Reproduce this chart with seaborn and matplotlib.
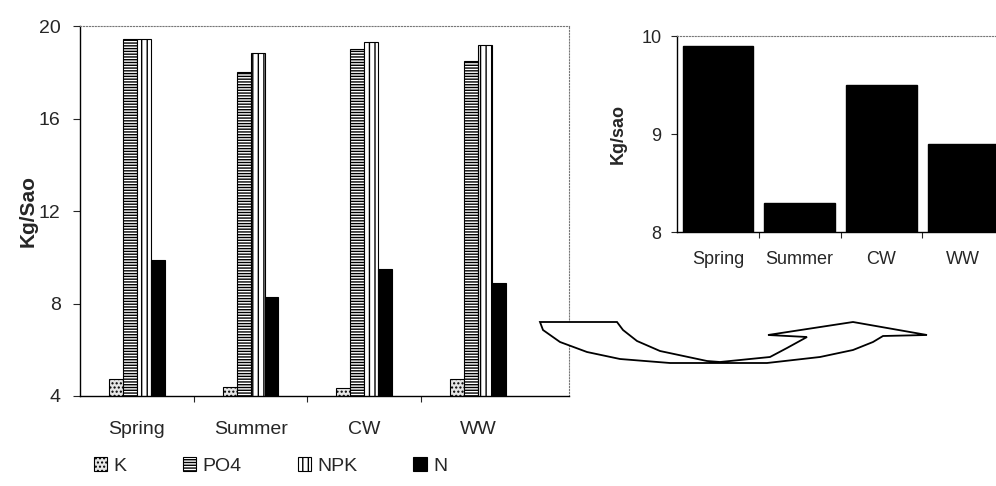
import pandas as pd
import numpy as np
import matplotlib.pyplot as plt
import seaborn as sns
from matplotlib.patches import Polygon

# values (Kg/Sao)
seasons = ["Spring", "Summer", "CW", "WW"]
nutrients = ["K", "PO4", "NPK", "N"]
k_vals = [4.72, 4.39, 4.35, 4.74]
po4_vals = [19.42, 18.02, 19.02, 18.49]
npk_vals = [19.42, 18.85, 19.31, 19.18]
n_vals = [9.9, 8.3, 9.5, 8.9]

sns.set_style("white")
plt.rcParams["font.family"] = ["Liberation Sans", "DejaVu Sans"]

df = pd.DataFrame({
    "season": seasons * 4,
    "nutrient": np.repeat(nutrients, 4),
    "value": k_vals + po4_vals + npk_vals + n_vals,
})

fig = plt.figure(figsize=(9.96, 4.86), dpi=100)

# main grouped chart
ax = fig.add_axes([80 / 996, 1 - 396 / 486, 489 / 996, 370 / 486])
sns.barplot(data=df, x="season", y="value", hue="nutrient", hue_order=nutrients,
            width=0.49, ax=ax, legend=False, err_kws={"linewidth": 0})

styles = [
    dict(fc="#e6e6e6", hatch="....", ec="black"),
    dict(fc="white", hatch="------", ec="black"),
    dict(fc="white", hatch="|||", ec="black"),
    dict(fc="black", hatch=None, ec="black"),
]
for cont, st in zip(ax.containers, styles):
    for bar in cont:
        bar.set_facecolor(st["fc"])
        bar.set_edgecolor(st["ec"])
        bar.set_hatch(st["hatch"])
        bar.set_linewidth(0.8)

ax.set_ylim(4, 20)
ax.set_yticks([4, 8, 12, 16, 20])
ax.set_xlim(-0.5, 3.8)
ax.set_xlabel("")
ax.set_ylabel("Kg/Sao", fontsize=15, fontweight="bold", labelpad=1)
ax.set_xticks([0.5, 1.5, 2.5], minor=True)
ax.tick_params(axis="x", which="major", length=0, pad=18, labelsize=14)
ax.tick_params(axis="x", which="minor", length=4, width=0.8, direction="out", bottom=True)
ax.tick_params(axis="y", length=5, width=0.8, direction="out", left=True, pad=9, labelsize=14)
for s in ["left", "bottom"]:
    ax.spines[s].set_color("black")
    ax.spines[s].set_linewidth(1)
for s in ["top", "right"]:
    ax.spines[s].set_color("#777777")
    ax.spines[s].set_linewidth(0.8)
    ax.spines[s].set_linestyle(":")

handles = [ax.containers[i][0] for i in range(4)]
fig.legend(handles, nutrients, loc="center left", bbox_to_anchor=(84 / 996, 1 - 466 / 486),
           ncol=4, frameon=False, fontsize=14, handlelength=0.7, handleheight=0.7,
           handletextpad=0.3, columnspacing=2.9, borderpad=0)

# inset with the N values
ax2 = fig.add_axes([677 / 996, 1 - 232 / 486, 327 / 996, 196 / 486])
sns.barplot(x=seasons, y=n_vals, color="black", width=0.86, ax=ax2, err_kws={"linewidth": 0})
for bar in ax2.patches:
    bar.set_facecolor("black")
    bar.set_edgecolor("black")
ax2.set_ylim(8, 10)
ax2.set_yticks([8, 9, 10])
ax2.set_xlim(-0.5, 3.5)
ax2.set_ylabel("Kg/sao", fontsize=13, fontweight="bold", labelpad=11)
ax2.set_xticks([0.5, 1.5, 2.5], minor=True)
ax2.tick_params(axis="x", which="major", length=0, pad=14, labelsize=13)
ax2.tick_params(axis="x", which="minor", length=4, width=0.8, direction="out", bottom=True)
ax2.tick_params(axis="y", length=4, width=0.8, direction="out", left=True, pad=7, labelsize=13)
for s in ["left", "bottom"]:
    ax2.spines[s].set_color("black")
    ax2.spines[s].set_linewidth(1)
ax2.spines["top"].set_color("#777777")
ax2.spines["top"].set_linewidth(0.8)
ax2.spines["top"].set_linestyle(":")
ax2.spines["right"].set_visible(False)

# hand drawn curved arrow linking the two charts (pixel outline)
arrow_px = [(540, 322), (617, 322), (623, 330), (637, 341), (660, 351), (707, 361),
            (720, 362), (770, 357), (787, 348), (807, 337), (768, 335), (853, 322),
            (927, 335), (883, 336), (873, 342), (853, 350), (820, 357), (767, 363),
            (737, 363), (670, 363), (620, 359), (587, 352), (560, 342), (543, 330)]
arrow = np.array([(x / 996, 1 - y / 486) for x, y in arrow_px])
fig.patches.append(Polygon(arrow, closed=True, fc="white", ec="black", lw=1.3,
                           transform=fig.transFigure, figure=fig))

fig.savefig("out.png", dpi=100)
